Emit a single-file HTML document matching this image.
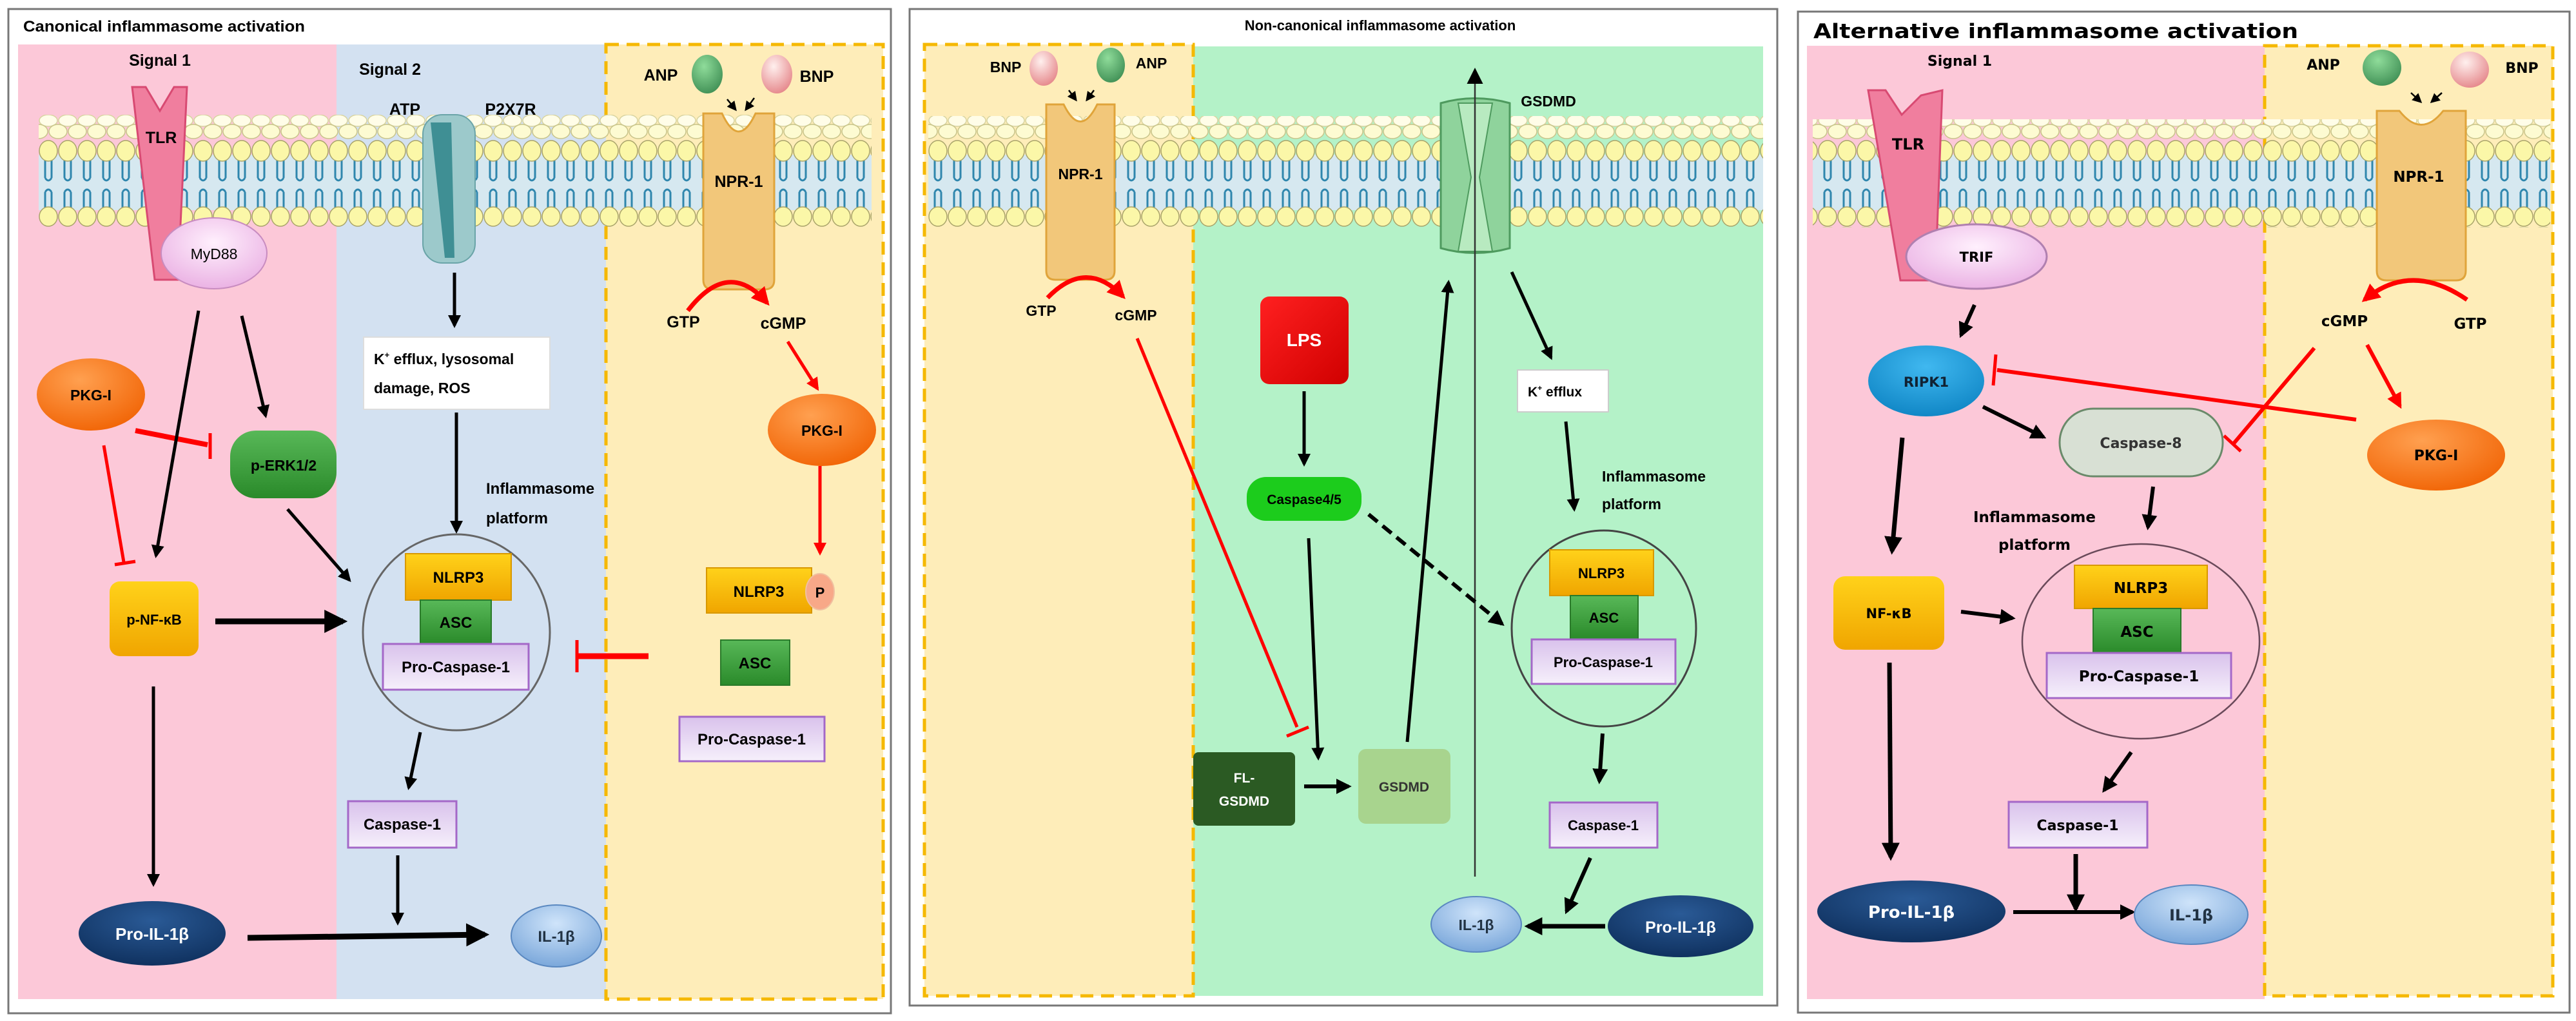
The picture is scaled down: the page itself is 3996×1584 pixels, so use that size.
<!DOCTYPE html>
<html><head><meta charset="utf-8"><style>
html,body{margin:0;padding:0;background:#fff;}
svg{display:block;}
text{font-family:"Liberation Sans",sans-serif;font-weight:bold;}
.p3 text{font-family:"DejaVu Sans","Liberation Sans",sans-serif;}
</style></head><body>
<svg width="3996" height="1584" viewBox="0 0 3996 1584" xmlns="http://www.w3.org/2000/svg">
<defs>
<pattern id="mem" x="0" y="178" width="30" height="174" patternUnits="userSpaceOnUse">
<rect x="0" y="62" width="30" height="86" fill="#d6e8f0"/>
<ellipse cx="15" cy="9" rx="14" ry="9" fill="#fffde8" stroke="#d8d4a0" stroke-width="1.5"/>
<ellipse cx="0" cy="26" rx="14" ry="11" fill="#fdfbd2" stroke="#c8c48a" stroke-width="1.5"/>
<ellipse cx="30" cy="26" rx="14" ry="11" fill="#fdfbd2" stroke="#c8c48a" stroke-width="1.5"/>
<path d="M10,70 V98 M20,70 V98 M10,120 V148 M20,120 V148" stroke="#2f86ad" stroke-width="3" fill="none"/>
<path d="M10,98 q5,8 10,0 M10,120 q5,-8 10,0" stroke="#2f86ad" stroke-width="3" fill="none"/>
<ellipse cx="15" cy="56" rx="14" ry="16" fill="#fbf7a8" stroke="#a9a46a" stroke-width="1.5"/>
<ellipse cx="15" cy="158" rx="14" ry="15" fill="#fbf7a8" stroke="#a9a46a" stroke-width="1.5"/>
</pattern>
<marker id="ah" viewBox="0 0 10 10" refX="8" refY="5" markerWidth="4" markerHeight="4" orient="auto"><path d="M0,0 L10,5 L0,10 z" fill="#000"/></marker>
<marker id="ahr" viewBox="0 0 10 10" refX="8" refY="5" markerWidth="4" markerHeight="4" orient="auto"><path d="M0,0 L10,5 L0,10 z" fill="#f00"/></marker>
<marker id="aht" viewBox="0 0 10 10" refX="8" refY="5" markerWidth="10" markerHeight="10" orient="auto"><path d="M0,0 L10,5 L0,10 z" fill="#000"/></marker>
<marker id="ahs" viewBox="0 0 10 10" refX="8" refY="5" markerWidth="6" markerHeight="6" orient="auto"><path d="M0,0 L10,5 L0,10 z" fill="#000"/></marker>
<linearGradient id="gy" x1="0" y1="0" x2="0" y2="1"><stop offset="0" stop-color="#ffd21a"/><stop offset="1" stop-color="#f0a500"/></linearGradient>
<linearGradient id="gg" x1="0" y1="0" x2="0" y2="1"><stop offset="0" stop-color="#58b858"/><stop offset="1" stop-color="#2a8a2a"/></linearGradient>
<linearGradient id="gp" x1="0" y1="0" x2="0" y2="1"><stop offset="0" stop-color="#d9c2ec"/><stop offset="1" stop-color="#f6f0fb"/></linearGradient>
<radialGradient id="go" cx="0.4" cy="0.3" r="0.8"><stop offset="0" stop-color="#ffa050"/><stop offset="1" stop-color="#f06000"/></radialGradient>
<radialGradient id="gn" cx="0.5" cy="0.3" r="0.8"><stop offset="0" stop-color="#2a5a96"/><stop offset="1" stop-color="#0c2c58"/></radialGradient>
<radialGradient id="gl" cx="0.5" cy="0.3" r="0.8"><stop offset="0" stop-color="#cfe4fa"/><stop offset="1" stop-color="#6f9fd6"/></radialGradient>
<radialGradient id="gm" cx="0.5" cy="0.35" r="0.8"><stop offset="0" stop-color="#fff0fd"/><stop offset="1" stop-color="#e6a4de"/></radialGradient>
<radialGradient id="gA" cx="0.4" cy="0.3" r="0.8"><stop offset="0" stop-color="#8fdc9a"/><stop offset="1" stop-color="#3a8a50"/></radialGradient>
<radialGradient id="gB" cx="0.4" cy="0.3" r="0.8"><stop offset="0" stop-color="#fff0ee"/><stop offset="1" stop-color="#e37e82"/></radialGradient>
<radialGradient id="gR" cx="0.5" cy="0.3" r="0.8"><stop offset="0" stop-color="#40b8f0"/><stop offset="1" stop-color="#0a80c0"/></radialGradient>
<linearGradient id="gL" x1="0" y1="0" x2="1" y2="1"><stop offset="0" stop-color="#ff2020"/><stop offset="1" stop-color="#d00000"/></linearGradient>
</defs>

<!-- ================= PANEL 1 ================= -->
<rect x="13" y="14" width="1369" height="1558" fill="#fff" stroke="#777" stroke-width="3"/>
<text x="36" y="49" font-size="24" textLength="437" lengthAdjust="spacingAndGlyphs">Canonical inflammasome activation</text>
<rect x="28" y="69" width="494" height="1481" fill="#fcc8d8"/>
<rect x="522" y="69" width="418" height="1481" fill="#d3e1f1"/>
<rect x="940" y="69" width="430" height="1481" fill="#feedb9" stroke="#f5b800" stroke-width="5" stroke-dasharray="20,12"/>
<rect x="60" y="178" width="1292" height="174" fill="url(#mem)"/>
<text x="248" y="102" font-size="25" text-anchor="middle">Signal 1</text>
<text x="605" y="116" font-size="25" text-anchor="middle">Signal 2</text>
<text x="628" y="178" font-size="25" text-anchor="middle">ATP</text>
<text x="792" y="178" font-size="25" text-anchor="middle">P2X7R</text>
<text x="1025" y="125" font-size="25" text-anchor="middle">ANP</text>
<text x="1267" y="127" font-size="25" text-anchor="middle">BNP</text>
<ellipse cx="1097" cy="115" rx="24" ry="30" fill="url(#gA)"/>
<ellipse cx="1205" cy="115" rx="24" ry="30" fill="url(#gB)"/>
<line x1="1128" y1="154" x2="1141" y2="170" stroke="#000" stroke-width="2.5" marker-end="url(#ahs)"/>
<line x1="1170" y1="152" x2="1157" y2="170" stroke="#000" stroke-width="2.5" marker-end="url(#ahs)"/>
<!-- TLR -->
<polygon points="205,135 226,135 248,172 270,135 290,135 276,434 240,434" fill="#f07e9e" stroke="#d84a72" stroke-width="3"/>
<text x="250" y="222" font-size="25" text-anchor="middle">TLR</text>
<ellipse cx="332" cy="393" rx="82" ry="55" fill="url(#gm)" stroke="#c88cc0" stroke-width="2"/>
<text x="332" y="402" font-size="23" text-anchor="middle" style="font-weight:normal">MyD88</text>
<!-- P2X7R -->
<rect x="656" y="178" width="81" height="230" rx="30" fill="#9cc9cb" stroke="#6aa4a8" stroke-width="2"/>
<path d="M668,190 L700,190 L705,400 L690,400 Z" fill="#3f8f94"/>
<!-- NPR-1 -->
<path d="M1091,176 L1120,176 Q1146,232 1172,176 L1201,176 L1201,434 Q1201,449 1186,449 L1106,449 Q1091,449 1091,434 Z" fill="#f2c77a" stroke="#e0a43a" stroke-width="3"/>
<text x="1146" y="290" font-size="25" text-anchor="middle">NPR-1</text>
<text x="1060" y="508" font-size="25" text-anchor="middle">GTP</text>
<text x="1215" y="510" font-size="25" text-anchor="middle">cGMP</text>
<path d="M1067,482 Q1130,400 1190,470" fill="none" stroke="#f00" stroke-width="7" marker-end="url(#ahr)"/>
<line x1="1222" y1="530" x2="1268" y2="603" stroke="#f00" stroke-width="5" marker-end="url(#ahr)"/>
<ellipse cx="1275" cy="667" rx="84" ry="56" fill="url(#go)"/>
<text x="1275" y="676" font-size="23" text-anchor="middle">PKG-I</text>
<line x1="1272" y1="723" x2="1272" y2="858" stroke="#f00" stroke-width="5" marker-end="url(#ahr)"/>
<rect x="1096" y="881" width="163" height="70" fill="url(#gy)" stroke="#d89800" stroke-width="2"/>
<ellipse cx="1272" cy="918" rx="22" ry="28" fill="#f8a888" stroke="#f0c0a0" stroke-width="2"/>
<text x="1272" y="927" font-size="22" text-anchor="middle">P</text>
<text x="1177" y="926" font-size="24" text-anchor="middle">NLRP3</text>
<rect x="1118" y="993" width="107" height="70" fill="url(#gg)" stroke="#2a7a2a" stroke-width="2"/>
<text x="1171" y="1037" font-size="24" text-anchor="middle">ASC</text>
<rect x="1054" y="1112" width="225" height="69" fill="url(#gp)" stroke="#a468c8" stroke-width="3"/>
<text x="1166" y="1155" font-size="24" text-anchor="middle">Pro-Caspase-1</text>
<line x1="1006" y1="1018" x2="897" y2="1018" stroke="#f00" stroke-width="9"/>
<line x1="895" y1="993" x2="895" y2="1043" stroke="#f00" stroke-width="5"/>
<!-- left side -->
<ellipse cx="141" cy="612" rx="84" ry="56" fill="url(#go)"/>
<text x="141" y="621" font-size="23" text-anchor="middle">PKG-I</text>
<rect x="357" y="668" width="165" height="105" rx="40" fill="url(#gg)"/>
<text x="440" y="730" font-size="23" text-anchor="middle">p-ERK1/2</text>
<line x1="210" y1="668" x2="322" y2="690" stroke="#f00" stroke-width="8"/>
<line x1="326" y1="672" x2="326" y2="712" stroke="#f00" stroke-width="5"/>
<line x1="161" y1="691" x2="192" y2="872" stroke="#f00" stroke-width="5"/>
<line x1="178" y1="876" x2="210" y2="871" stroke="#f00" stroke-width="5"/>
<line x1="308" y1="482" x2="242" y2="862" stroke="#000" stroke-width="5" marker-end="url(#ah)"/>
<line x1="375" y1="490" x2="412" y2="645" stroke="#000" stroke-width="5" marker-end="url(#ah)"/>
<rect x="564" y="523" width="289" height="112" fill="#fff" stroke="#ddd" stroke-width="2"/>
<text x="580" y="565" font-size="23"><tspan>K</tspan><tspan font-size="13" dy="-10">+</tspan><tspan dy="10"> efflux, lysosomal</tspan></text>
<text x="580" y="610" font-size="23">damage, ROS</text>
<line x1="705" y1="423" x2="705" y2="505" stroke="#000" stroke-width="5" marker-end="url(#ah)"/>
<line x1="708" y1="640" x2="708" y2="824" stroke="#000" stroke-width="5" marker-end="url(#ah)"/>
<text x="754" y="766" font-size="24">Inflammasome</text>
<text x="754" y="812" font-size="24">platform</text>
<line x1="446" y1="790" x2="542" y2="900" stroke="#000" stroke-width="5" marker-end="url(#ah)"/>
<rect x="170" y="902" width="138" height="116" rx="16" fill="url(#gy)"/>
<text x="239" y="969" font-size="22" text-anchor="middle">p-NF-κB</text>
<line x1="334" y1="964" x2="532" y2="964" stroke="#000" stroke-width="9" marker-end="url(#ah)"/>
<ellipse cx="708" cy="981" rx="145" ry="152" fill="none" stroke="#666" stroke-width="3"/>
<rect x="629" y="859" width="164" height="72" fill="url(#gy)" stroke="#d89800" stroke-width="2"/>
<text x="711" y="904" font-size="24" text-anchor="middle">NLRP3</text>
<rect x="652" y="931" width="110" height="68" fill="url(#gg)" stroke="#2a7a2a" stroke-width="2"/>
<text x="707" y="974" font-size="24" text-anchor="middle">ASC</text>
<rect x="594" y="999" width="226" height="71" fill="url(#gp)" stroke="#a468c8" stroke-width="3"/>
<text x="707" y="1043" font-size="24" text-anchor="middle">Pro-Caspase-1</text>
<line x1="652" y1="1136" x2="634" y2="1222" stroke="#000" stroke-width="5" marker-end="url(#ah)"/>
<rect x="540" y="1243" width="168" height="72" fill="url(#gp)" stroke="#a468c8" stroke-width="3"/>
<text x="624" y="1287" font-size="24" text-anchor="middle">Caspase-1</text>
<line x1="617" y1="1327" x2="617" y2="1432" stroke="#000" stroke-width="5" marker-end="url(#ah)"/>
<line x1="238" y1="1065" x2="238" y2="1372" stroke="#000" stroke-width="5" marker-end="url(#ah)"/>
<ellipse cx="236" cy="1448" rx="114" ry="50" fill="url(#gn)"/>
<text x="236" y="1458" font-size="26" text-anchor="middle" fill="#fff">Pro-IL-1β</text>
<line x1="384" y1="1455" x2="752" y2="1450" stroke="#000" stroke-width="9" marker-end="url(#ah)"/>
<ellipse cx="863" cy="1452" rx="70" ry="48" fill="url(#gl)" stroke="#5a88c0" stroke-width="2"/>
<text x="863" y="1461" font-size="24" text-anchor="middle" fill="#234">IL-1β</text>

<!-- ================= PANEL 2 ================= -->
<rect x="1411" y="14" width="1346" height="1546" fill="#fff" stroke="#777" stroke-width="3"/>
<text x="2141" y="47" font-size="22" text-anchor="middle">Non-canonical inflammasome activation</text>
<rect x="1851" y="72" width="884" height="1473" fill="#b4f2c8"/>
<rect x="1434" y="69" width="417" height="1476" fill="#feedb9" stroke="#f5b800" stroke-width="5" stroke-dasharray="20,12"/>
<rect x="1440" y="180" width="1295" height="172" fill="url(#mem)"/>
<text x="1560" y="112" font-size="23" text-anchor="middle">BNP</text>
<ellipse cx="1619" cy="106" rx="22" ry="27" fill="url(#gB)"/>
<ellipse cx="1723" cy="101" rx="22" ry="27" fill="url(#gA)"/>
<text x="1786" y="106" font-size="23" text-anchor="middle">ANP</text>
<line x1="1658" y1="140" x2="1669" y2="155" stroke="#000" stroke-width="2.5" marker-end="url(#ahs)"/>
<line x1="1697" y1="140" x2="1686" y2="155" stroke="#000" stroke-width="2.5" marker-end="url(#ahs)"/>
<path d="M1623,162 L1650,162 Q1676,215 1702,162 L1729,162 L1729,420 Q1729,434 1715,434 L1637,434 Q1623,434 1623,420 Z" fill="#f2c77a" stroke="#e0a43a" stroke-width="3"/>
<text x="1676" y="278" font-size="23" text-anchor="middle">NPR-1</text>
<text x="1615" y="490" font-size="23" text-anchor="middle">GTP</text>
<text x="1762" y="497" font-size="23" text-anchor="middle">cGMP</text>
<path d="M1625,462 Q1685,400 1742,460" fill="none" stroke="#f00" stroke-width="7" marker-end="url(#ahr)"/>
<line x1="1764" y1="525" x2="2012" y2="1128" stroke="#f00" stroke-width="5"/>
<line x1="1996" y1="1142" x2="2030" y2="1128" stroke="#f00" stroke-width="5"/>
<!-- GSDMD channel -->
<path d="M2235,160 Q2288,145 2342,160 L2342,385 Q2288,400 2235,385 Z" fill="#8fd39c" stroke="#4e9a5e" stroke-width="3"/>
<path d="M2262,160 L2315,160 L2295,275 L2315,390 L2262,390 L2282,275 Z" fill="#b8eac0" stroke="#4e9a5e" stroke-width="2"/>
<text x="2402" y="165" font-size="23" text-anchor="middle">GSDMD</text>
<line x1="2288" y1="1360" x2="2288" y2="110" stroke="#333" stroke-width="2.5" marker-end="url(#aht)"/>
<rect x="1955" y="460" width="137" height="136" rx="14" fill="url(#gL)"/>
<text x="2023" y="537" font-size="28" text-anchor="middle" fill="#fff">LPS</text>
<line x1="2023" y1="607" x2="2023" y2="720" stroke="#000" stroke-width="5" marker-end="url(#ah)"/>
<rect x="1934" y="740" width="178" height="68" rx="30" fill="#1ccc1c"/>
<text x="2023" y="782" font-size="21" text-anchor="middle">Caspase4/5</text>
<line x1="2030" y1="835" x2="2045" y2="1176" stroke="#000" stroke-width="5" marker-end="url(#ah)"/>
<line x1="2123" y1="798" x2="2330" y2="968" stroke="#000" stroke-width="6" stroke-dasharray="18,10" marker-end="url(#ah)"/>
<rect x="1851" y="1167" width="158" height="114" rx="8" fill="#2b5a23"/>
<text x="1930" y="1214" font-size="21" text-anchor="middle" fill="#fff">FL-</text>
<text x="1930" y="1250" font-size="21" text-anchor="middle" fill="#fff">GSDMD</text>
<line x1="2023" y1="1220" x2="2092" y2="1220" stroke="#000" stroke-width="6" marker-end="url(#ah)"/>
<rect x="2107" y="1162" width="143" height="116" rx="12" fill="#a8d48e"/>
<text x="2178" y="1228" font-size="21" text-anchor="middle" fill="#333">GSDMD</text>
<line x1="2183" y1="1151" x2="2247" y2="438" stroke="#000" stroke-width="5" marker-end="url(#ah)"/>
<line x1="2345" y1="422" x2="2406" y2="555" stroke="#000" stroke-width="5" marker-end="url(#ah)"/>
<rect x="2354" y="574" width="141" height="65" fill="#fff" stroke="#ccc" stroke-width="2"/>
<text x="2370" y="615" font-size="21"><tspan>K</tspan><tspan font-size="12" dy="-9">+</tspan><tspan dy="9"> efflux</tspan></text>
<line x1="2429" y1="654" x2="2442" y2="790" stroke="#000" stroke-width="5" marker-end="url(#ah)"/>
<text x="2485" y="747" font-size="23">Inflammasome</text>
<text x="2485" y="790" font-size="23">platform</text>
<ellipse cx="2488" cy="975" rx="143" ry="152" fill="none" stroke="#444" stroke-width="3"/>
<rect x="2404" y="853" width="161" height="71" fill="url(#gy)" stroke="#d89800" stroke-width="2"/>
<text x="2484" y="897" font-size="22" text-anchor="middle">NLRP3</text>
<rect x="2436" y="924" width="105" height="68" fill="url(#gg)" stroke="#2a7a2a" stroke-width="2"/>
<text x="2488" y="966" font-size="22" text-anchor="middle">ASC</text>
<rect x="2376" y="992" width="223" height="69" fill="url(#gp)" stroke="#a468c8" stroke-width="3"/>
<text x="2487" y="1035" font-size="22" text-anchor="middle">Pro-Caspase-1</text>
<line x1="2486" y1="1138" x2="2481" y2="1212" stroke="#000" stroke-width="6" marker-end="url(#ah)"/>
<rect x="2404" y="1245" width="167" height="70" fill="url(#gp)" stroke="#a468c8" stroke-width="3"/>
<text x="2487" y="1288" font-size="22" text-anchor="middle">Caspase-1</text>
<line x1="2467" y1="1331" x2="2430" y2="1414" stroke="#000" stroke-width="6" marker-end="url(#ah)"/>
<ellipse cx="2290" cy="1434" rx="70" ry="43" fill="url(#gl)" stroke="#5a88c0" stroke-width="2"/>
<text x="2290" y="1443" font-size="23" text-anchor="middle" fill="#234">IL-1β</text>
<ellipse cx="2607" cy="1437" rx="113" ry="48" fill="url(#gn)"/>
<text x="2607" y="1447" font-size="25" text-anchor="middle" fill="#fff">Pro-IL-1β</text>
<line x1="2490" y1="1437" x2="2370" y2="1437" stroke="#000" stroke-width="7" marker-end="url(#ah)"/>

<!-- ================= PANEL 3 ================= -->
<g class="p3">
<rect x="2789" y="18" width="1197" height="1553" fill="#fff" stroke="#777" stroke-width="3"/>
<text x="2813" y="59" font-size="31" textLength="752" lengthAdjust="spacingAndGlyphs">Alternative inflammasome activation</text>
<rect x="2803" y="71" width="710" height="1479" fill="#fcc8d8"/>
<rect x="3513" y="71" width="447" height="1474" fill="#feedb9" stroke="#f5b800" stroke-width="5" stroke-dasharray="20,12"/>
<rect x="2812" y="185" width="1144" height="168" fill="url(#mem)"/>
<text x="3040" y="102" font-size="22" text-anchor="middle">Signal 1</text>
<polygon points="2898,140 2925,140 2950,178 2980,148 3013,140 3002,435 2948,435" fill="#f07e9e" stroke="#d84a72" stroke-width="3"/>
<text x="2960" y="232" font-size="24" text-anchor="middle">TLR</text>
<ellipse cx="3066" cy="398" rx="109" ry="50" fill="url(#gm)" stroke="#b080b0" stroke-width="3"/>
<text x="3066" y="406" font-size="21" text-anchor="middle">TRIF</text>
<text x="3604" y="108" font-size="22" text-anchor="middle">ANP</text>
<ellipse cx="3695" cy="105" rx="30" ry="28" fill="url(#gA)"/>
<ellipse cx="3831" cy="108" rx="30" ry="28" fill="url(#gB)"/>
<text x="3912" y="113" font-size="22" text-anchor="middle">BNP</text>
<line x1="3740" y1="144" x2="3755" y2="158" stroke="#000" stroke-width="2.5" marker-end="url(#ahs)"/>
<line x1="3788" y1="144" x2="3772" y2="158" stroke="#000" stroke-width="2.5" marker-end="url(#ahs)"/>
<path d="M3687,172 L3722,172 Q3756,215 3790,172 L3825,172 L3825,420 Q3825,435 3810,435 L3702,435 Q3687,435 3687,420 Z" fill="#f2c77a" stroke="#e0a43a" stroke-width="3"/>
<text x="3752" y="282" font-size="23" text-anchor="middle">NPR-1</text>
<text x="3637" y="506" font-size="23" text-anchor="middle">cGMP</text>
<text x="3832" y="510" font-size="23" text-anchor="middle">GTP</text>
<path d="M3827,465 Q3740,405 3668,465" fill="none" stroke="#f00" stroke-width="7" marker-end="url(#ahr)"/>
<line x1="3672" y1="535" x2="3723" y2="630" stroke="#f00" stroke-width="6" marker-end="url(#ahr)"/>
<ellipse cx="3779" cy="706" rx="107" ry="55" fill="url(#go)"/>
<text x="3779" y="714" font-size="22" text-anchor="middle">PKG-I</text>
<line x1="3590" y1="540" x2="3465" y2="688" stroke="#f00" stroke-width="6"/>
<line x1="3450" y1="676" x2="3476" y2="700" stroke="#f00" stroke-width="5"/>
<line x1="3655" y1="651" x2="3098" y2="574" stroke="#f00" stroke-width="6"/>
<line x1="3096" y1="550" x2="3092" y2="598" stroke="#f00" stroke-width="5"/>
<ellipse cx="2988" cy="591" rx="90" ry="55" fill="url(#gR)"/>
<text x="2988" y="600" font-size="21" text-anchor="middle" fill="#123">RIPK1</text>
<line x1="3063" y1="473" x2="3042" y2="520" stroke="#000" stroke-width="6" marker-end="url(#ah)"/>
<line x1="3076" y1="631" x2="3170" y2="678" stroke="#000" stroke-width="6" marker-end="url(#ah)"/>
<rect x="3195" y="634" width="253" height="105" rx="52" fill="#d8e0d4" stroke="#6a8a6a" stroke-width="3"/>
<text x="3321" y="695" font-size="22" text-anchor="middle" fill="#333">Caspase-8</text>
<line x1="3340" y1="755" x2="3332" y2="818" stroke="#000" stroke-width="6" marker-end="url(#ah)"/>
<text x="3156" y="810" font-size="23" text-anchor="middle">Inflammasome</text>
<text x="3156" y="853" font-size="23" text-anchor="middle">platform</text>
<ellipse cx="3321" cy="995" rx="184" ry="151" fill="none" stroke="#6a4a5a" stroke-width="2.5"/>
<rect x="3218" y="877" width="206" height="67" fill="url(#gy)" stroke="#d89800" stroke-width="2"/>
<text x="3321" y="920" font-size="23" text-anchor="middle">NLRP3</text>
<rect x="3247" y="944" width="136" height="69" fill="url(#gg)" stroke="#2a7a2a" stroke-width="2"/>
<text x="3315" y="988" font-size="23" text-anchor="middle">ASC</text>
<rect x="3175" y="1013" width="286" height="70" fill="url(#gp)" stroke="#a468c8" stroke-width="3"/>
<text x="3318" y="1057" font-size="23" text-anchor="middle">Pro-Caspase-1</text>
<line x1="2951" y1="679" x2="2935" y2="855" stroke="#000" stroke-width="7" marker-end="url(#ah)"/>
<rect x="2844" y="894" width="172" height="114" rx="18" fill="url(#gy)"/>
<text x="2930" y="959" font-size="21" text-anchor="middle">NF-κB</text>
<line x1="3042" y1="949" x2="3122" y2="959" stroke="#000" stroke-width="6" marker-end="url(#ah)"/>
<line x1="2931" y1="1028" x2="2933" y2="1330" stroke="#000" stroke-width="7" marker-end="url(#ah)"/>
<line x1="3306" y1="1167" x2="3264" y2="1226" stroke="#000" stroke-width="6" marker-end="url(#ah)"/>
<rect x="3116" y="1244" width="215" height="71" fill="url(#gp)" stroke="#a468c8" stroke-width="3"/>
<text x="3223" y="1288" font-size="22" text-anchor="middle">Caspase-1</text>
<line x1="3220" y1="1325" x2="3220" y2="1410" stroke="#000" stroke-width="7" marker-end="url(#ah)"/>
<ellipse cx="2965" cy="1414" rx="146" ry="48" fill="url(#gn)"/>
<text x="2965" y="1424" font-size="26" text-anchor="middle" fill="#fff">Pro-IL-1β</text>
<line x1="3123" y1="1415" x2="3308" y2="1415" stroke="#000" stroke-width="6" marker-end="url(#ah)"/>
<ellipse cx="3399" cy="1419" rx="88" ry="46" fill="url(#gl)" stroke="#5a88c0" stroke-width="2"/>
<text x="3399" y="1428" font-size="24" text-anchor="middle" fill="#234">IL-1β</text>
</g>
</svg>
</body></html>
